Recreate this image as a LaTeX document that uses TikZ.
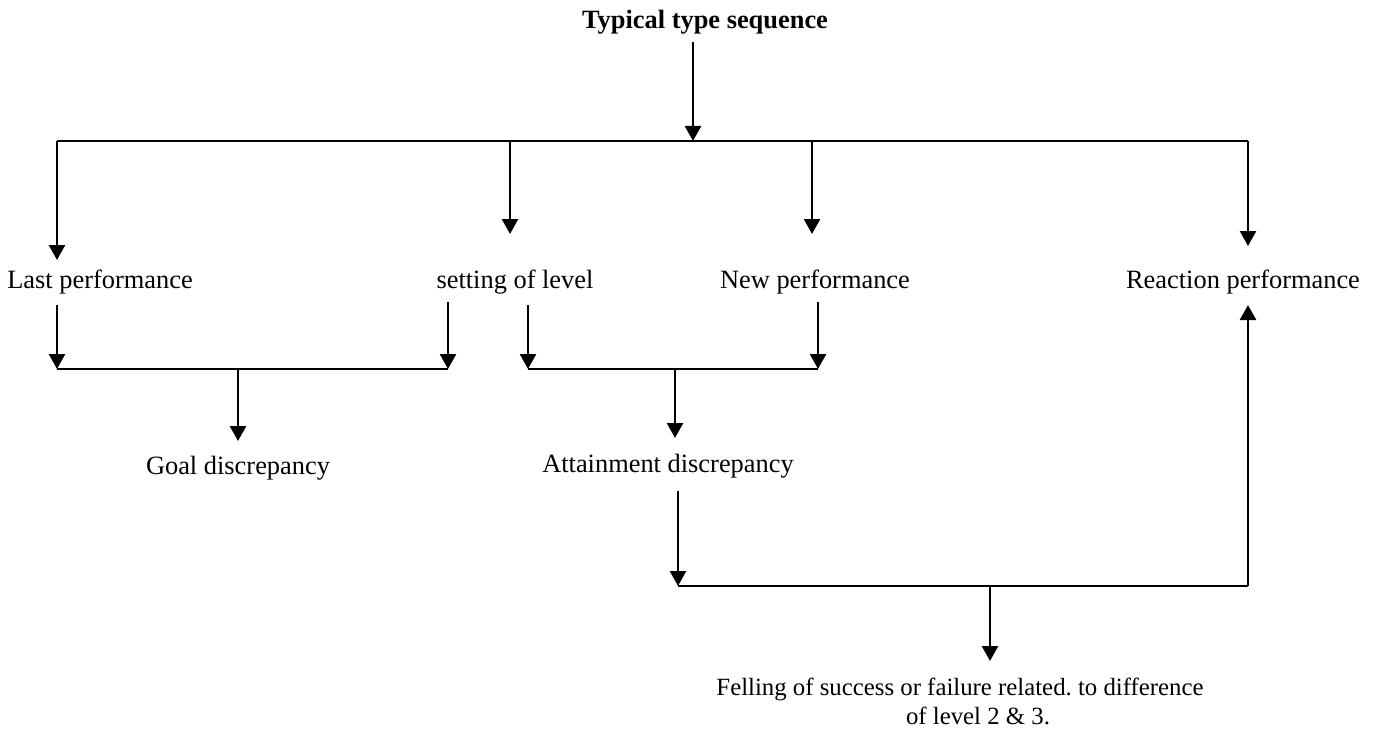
\documentclass[tikz,border=0pt]{standalone}
\usepackage{fontspec}
\setmainfont{Liberation Serif}
\usetikzlibrary{arrows.meta}
\begin{document}
\frenchspacing
\begin{tikzpicture}[x=0.5pt,y=-0.5pt,
  lbl/.style={inner sep=0pt,font=\fontsize{13.2}{16}\selectfont},
  small/.style={inner sep=0pt,font=\fontsize{12.4}{15}\selectfont},
  ln/.style={line width=1.25pt},
  arr/.style={ln,-{Triangle[width=8pt,length=7.5pt]}}]
\useasboundingbox (0,0) rectangle (1376,733);
% text nodes
\node[lbl,font=\fontsize{13.2}{16}\selectfont\bfseries] (title) at (705,22) {Typical type sequence};
\node[lbl] (last) at (100,282) {Last performance};
\node[lbl] (set) at (515,282) {setting of level};
\node[lbl] (new) at (815,282) {New performance};
\node[lbl] (react) at (1243,282) {Reaction performance};
\node[lbl] (goal) at (238,468) {Goal discrepancy};
\node[lbl] (att) at (668,466) {Attainment discrepancy};
\node[small] (fel1) at (960,689) {Felling of success or failure related. to difference};
\node[small] (fel2) at (978,716) {of level 2 \& 3.};
% coordinates
\coordinate (t0) at (693,42);
\coordinate (t1) at (693,141);
\coordinate (hL) at (57,141);
\coordinate (hR) at (1248,141);
\coordinate (h2) at (510,141);
\coordinate (h3) at (812,141);
\coordinate (a1) at (57,260);
\coordinate (a2) at (510,234);
\coordinate (a3) at (812,234);
\coordinate (a4) at (1248,246);
% level 2 left
\coordinate (b1s) at (57,305);
\coordinate (b1e) at (57,369);
\coordinate (b2s) at (448,302);
\coordinate (b2e) at (448,369);
\coordinate (g0) at (238,369);
\coordinate (g1) at (238,441);
% level 2 right
\coordinate (c1s) at (528,305);
\coordinate (c1e) at (528,369);
\coordinate (c2s) at (818,302);
\coordinate (c2e) at (818,369);
\coordinate (k0) at (675,369);
\coordinate (k1) at (675,438);
% level 3
\coordinate (d0) at (678,491);
\coordinate (d1) at (678,586);
\coordinate (dR) at (1248,586);
\coordinate (dT) at (1248,305);
\coordinate (f0) at (990,586);
\coordinate (f1) at (990,661);
% connectors
\draw[arr] (t0) -- (t1);
\draw[ln] (hL) -- (hR);
\draw[arr] (hL) -- (a1);
\draw[arr] (h2) -- (a2);
\draw[arr] (h3) -- (a3);
\draw[arr] (hR) -- (a4);
\draw[arr] (b1s) -- (b1e);
\draw[arr] (b2s) -- (b2e);
\draw[ln] (b1e) -- (b2e);
\draw[arr] (g0) -- (g1);
\draw[arr] (c1s) -- (c1e);
\draw[arr] (c2s) -- (c2e);
\draw[ln] (c1e) -- (c2e);
\draw[arr] (k0) -- (k1);
\draw[arr] (d0) -- (d1);
\draw[ln] (d1) -- (dR);
\draw[arr] (dR) -- (dT);
\draw[arr] (f0) -- (f1);
\end{tikzpicture}
\end{document}
